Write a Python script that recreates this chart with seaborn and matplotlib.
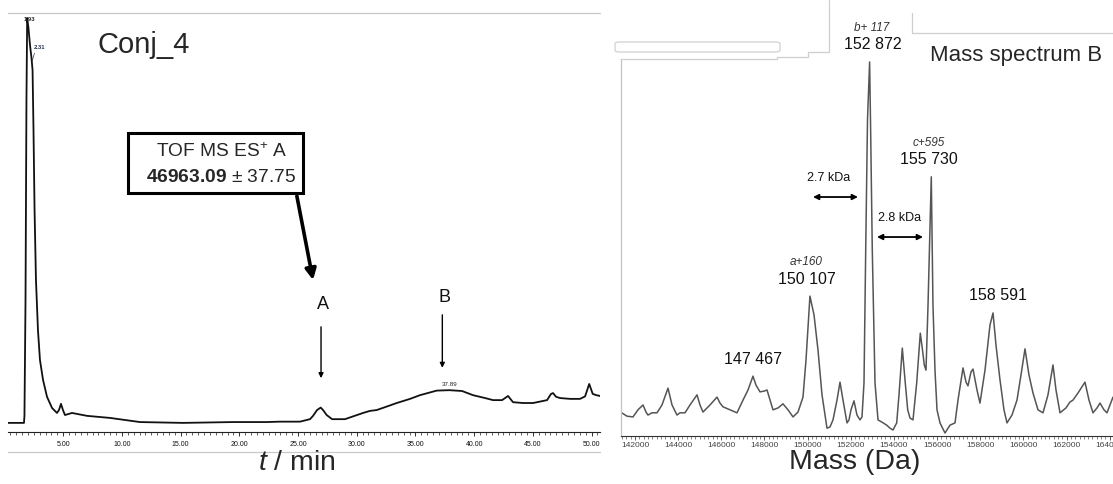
import numpy as np
import pandas as pd
import matplotlib
matplotlib.use("Agg")
import matplotlib.pyplot as plt
import seaborn as sns
from matplotlib.patches import Rectangle, FancyBboxPatch
from matplotlib.lines import Line2D
from matplotlib.ticker import MultipleLocator, FormatStrFormatter

# ---------------- data: chromatogram (left) ----------------
lc_time = [0.30, 1.32, 1.66, 1.70, 1.79, 1.87, 1.93, 2.04, 2.17, 2.30, 2.39, 2.47,
           2.56, 2.68, 2.85, 3.02, 3.28, 3.62, 4.05, 4.47, 4.64, 4.81, 4.98, 5.15,
           5.75, 7.03, 8.99, 11.54, 15.20, 19.46, 22.36, 23.47, 25.17, 26.02, 26.28,
           26.62, 26.93, 27.13, 27.44, 27.90, 29.00, 30.54, 31.13, 31.70, 32.41,
           33.41, 34.54, 35.39, 36.82, 37.89, 38.97, 39.90, 40.93, 41.61, 42.38,
           42.89, 43.31, 44.17, 45.02, 45.87, 46.21, 46.55, 46.72, 46.98, 47.32,
           48.17, 49.02, 49.45, 49.80, 50.10, 50.40, 50.72]
lc_signal = [2.2, 2.2, 2.2, 4.0, 31.9, 80.2, 100.0, 97.6, 93.5, 90.3, 87.4, 72.9,
             53.6, 36.7, 24.6, 17.4, 12.6, 8.5, 5.8, 4.6, 5.3, 6.8, 5.3, 4.1,
             4.6, 3.9, 3.4, 2.4, 2.2, 2.4, 2.4, 2.5, 2.5, 3.1, 3.9,
             5.3, 5.9, 5.3, 4.1, 3.1, 3.1, 4.6, 5.1, 5.3, 6.0,
             7.0, 8.0, 8.9, 10.0, 10.1, 9.9, 8.9, 8.2, 7.7, 7.7,
             8.7, 7.2, 7.0, 7.0, 7.5, 7.7, 9.2, 9.4, 8.5, 8.2,
             8.0, 8.0, 8.6, 11.6, 9.2, 8.9, 8.7]
lc_peak_times = [1.93, 2.31, 37.89]
lc_peak_labels = ["1.93", "2.31", "37.89"]
fraction_names = ["A", "B"]
fraction_times = [26.96, 37.29]
lc_ticks = [5, 10, 15, 20, 25, 30, 35, 40, 45, 50]
tof_title = "TOF MS ES$^{+}$ A"
tof_mass = "46963.09"
tof_err = "37.75"

# ---------------- data: deconvoluted mass spectrum (right) ----------------
ms_mass = [141384, 141629, 141907, 142139, 142371, 142510, 142602, 142788, 143019,
           143251, 143529, 143715, 143946, 144085, 144317, 144549, 144873, 145012,
           145151, 145476, 145800, 145939, 146078, 146402, 146727, 147005, 147236,
           147467, 147607, 147793, 147978, 148117, 148256, 148395, 148627, 148858,
           149090, 149322, 149553, 149785, 149924, 150107, 150295, 150480, 150666,
           150897, 151036, 151175, 151361, 151500, 151639, 151824, 151917, 152009,
           152148, 152287, 152427, 152519, 152612, 152691, 152774, 152872, 152913,
           152996, 153122, 153261, 153446, 153664, 153817, 153956, 154127, 154234,
           154387, 154512, 154637, 154744, 154883, 155054, 155221, 155323, 155406,
           155485, 155578, 155730, 155809, 155902, 155995, 156134, 156365, 156597,
           156829, 156968, 157200, 157339, 157431, 157570, 157663, 157848, 157987,
           158219, 158451, 158591, 158729, 158914, 159099, 159238, 159470, 159702,
           159887, 160073, 160258, 160443, 160675, 160907, 161138, 161370, 161509,
           161695, 161972, 162158, 162297, 162529, 162853, 163038, 163224, 163409,
           163548, 163733, 163872, 164011, 164151]
ms_intensity = [6.2, 5.3, 5.1, 7.0, 8.3, 6.4, 5.6, 6.2, 6.2,
                8.3, 12.8, 8.3, 5.6, 6.2, 6.2, 8.3, 11.0, 8.3,
                6.4, 8.3, 10.4, 8.8, 7.8, 7.0, 6.2, 9.6, 12.3,
                16.0, 13.6, 11.8, 12.0, 12.3, 9.6, 7.0, 7.5, 8.6,
                7.0, 5.1, 6.4, 10.4, 20.3, 37.4, 32.4, 23.0, 11.0,
                2.1, 2.4, 4.3, 9.6, 14.4, 9.6, 3.5, 4.3, 7.0,
                9.4, 5.6, 4.3, 5.1, 14.2, 49.7, 84.5, 100.0, 84.5,
                49.7, 14.2, 4.3, 3.7, 2.9, 2.1, 1.6, 3.5, 11.0,
                23.5, 15.0, 7.0, 4.8, 4.3, 14.2, 27.5, 23.0, 19.0,
                17.6, 34.8, 69.3, 34.8, 17.6, 7.0, 3.5, 0.8, 2.9,
                3.5, 9.6, 18.2, 14.4, 13.4, 17.1, 17.9, 12.3, 8.8,
                17.6, 29.7, 32.9, 24.3, 15.0, 7.0, 3.5, 5.6, 9.6,
                16.3, 23.3, 16.3, 11.5, 7.0, 6.2, 11.0, 19.0, 12.3,
                6.2, 7.5, 9.1, 9.6, 11.5, 14.4, 9.6, 6.2, 7.5,
                8.8, 7.0, 6.2, 8.3, 10.4]
ms_peak_mass = [147467, 150107, 152872, 155730, 158591]
ms_peak_label = ["147 467", "150 107", "152 872", "155 730", "158 591"]
ms_peak_adduct = ["", "a+160", "b+ 117", "c+595", ""]
ms_gap_labels = ["2.7 kDa", "2.8 kDa"]
ms_gap_from = [150249, 153214]
ms_gap_to = [152333, 155346]
ms_gap_level = [63.9, 53.2]
ms_ticks = list(range(142000, 164001, 2000))

# ---------------- style ----------------
sns.set_style("white")
plt.rcParams["font.family"] = ["Liberation Sans", "DejaVu Sans"]
plt.rcParams["mathtext.fontset"] = "custom"
plt.rcParams["mathtext.rm"] = "Liberation Sans"
plt.rcParams["mathtext.it"] = "Liberation Sans:italic"
plt.rcParams["mathtext.bf"] = "Liberation Sans:bold"

W, H = 1113, 484
fig = plt.figure(figsize=(W / 100, H / 100), dpi=100)
fig.patch.set_facecolor("white")


def fx(x):
    return x / W


def fy(y):
    return 1 - y / H


def frect(x0, y0, x1, y1):
    return [fx(x0), fy(y1), fx(x1) - fx(x0), fy(y0) - fy(y1)]


# ---------------- left panel: chromatogram ----------------
axL = fig.add_axes(frect(8, 13, 600, 432))
axL.patch.set_alpha(0)
lc_df = pd.DataFrame({"t": lc_time, "s": lc_signal})
sns.lineplot(data=lc_df, x="t", y="s", ax=axL, color="#111111", lw=1.3,
             sort=False, estimator=None)
axL.set_xlim(0.298, 50.72)
axL.set_ylim(0, 101.2)
for s in ["top", "right", "left"]:
    axL.spines[s].set_visible(False)
axL.spines["bottom"].set_color("#222222")
axL.spines["bottom"].set_linewidth(0.8)
axL.set_xticks(lc_ticks)
axL.xaxis.set_major_formatter(FormatStrFormatter("%.2f"))
axL.xaxis.set_minor_locator(MultipleLocator(0.5))
axL.tick_params(axis="x", which="major", direction="out", length=3, width=0.6,
                labelsize=5, pad=3.5, colors="#111111", bottom=True)
axL.tick_params(axis="x", which="minor", direction="out", length=1.8, width=0.5,
                colors="#222222", bottom=True)
axL.set_yticks([])
axL.set_xlabel("")
axL.set_ylabel("")

# small peak labels
axL.text(2.09, 99.7, lc_peak_labels[0], fontsize=4.2, ha="center", va="center",
         color="#222222", fontweight="bold")
axL.text(2.94, 92.9, lc_peak_labels[1], fontsize=4.2, ha="center", va="center",
         color="#223355", fontweight="bold")
axL.plot([2.35, 2.55], [89.5, 91.5], color="#333333", lw=0.5)
axL.text(37.95, 11.4, lc_peak_labels[2], fontsize=4.5, ha="center", va="center",
         color="#222222")

# fraction arrows A and B
arrow_top = [25.4, 28.3]
arrow_bot = [13.0, 15.5]
label_y = [30.9, 32.4]
for name, t, yt, yb, ly in zip(fraction_names, fraction_times, arrow_top, arrow_bot, label_y):
    axL.annotate("", xy=(t, yb), xytext=(t, yt),
                 arrowprops=dict(arrowstyle="-|>", lw=1.0, color="black",
                                 mutation_scale=7, shrinkA=0, shrinkB=0))
    axL.text(t + 0.2, ly, name, fontsize=13, ha="center", va="center", color="#111111")

# TOF box
fig.patches.append(Rectangle((fx(128), fy(193)), fx(303) - fx(128), fy(133) - fy(193),
                             transform=fig.transFigure, fill=False, lw=2.2,
                             edgecolor="black"))
fig.text(fx(222), fy(152), tof_title, fontsize=13.8, ha="center", va="center")
fig.text(fx(221), fy(177), r"$\mathbf{" + tof_mass + "}$ ± " + tof_err,
         fontsize=13.8, ha="center", va="center")
axL.annotate("", xy=(26.28, 36.7), xytext=(24.9, 57.0),
             arrowprops=dict(arrowstyle="-|>", lw=2.6, color="black",
                             mutation_scale=16, shrinkA=0, shrinkB=0))

fig.text(fx(97), fy(45), "Conj_4", fontsize=21, ha="left", va="center")
fig.text(fx(297), fy(463), "$t$ / min", fontsize=20.5, ha="center", va="center")

# grey frame lines of the left panel
for (x0, y0, x1, y1) in [(8, 13, 600, 13), (8, 452, 600, 452)]:
    fig.add_artist(Line2D([fx(x0), fx(x1)], [fy(y0), fy(y1)], color="#c8c8c8", lw=0.9))

# ---------------- right panel: mass spectrum ----------------
axR = fig.add_axes(frect(621, 59, 1113, 436))
axR.patch.set_alpha(0)
ms_df = pd.DataFrame({"m": ms_mass, "i": ms_intensity})
sns.lineplot(data=ms_df, x="m", y="i", ax=axR, color="#555555", lw=1.1,
             sort=False, estimator=None)
axR.set_xlim(141351, 164151)
axR.set_ylim(0, 100.8)
axR.spines["top"].set_visible(False)
axR.spines["right"].set_visible(False)
axR.spines["left"].set_color("#c4c4c4")
axR.spines["left"].set_linewidth(0.9)
axR.spines["bottom"].set_color("#333333")
axR.spines["bottom"].set_linewidth(0.8)
axR.set_xticks(ms_ticks)
axR.set_xticklabels([str(v) for v in ms_ticks])
axR.xaxis.set_minor_locator(MultipleLocator(200))
axR.tick_params(axis="x", which="major", direction="out", length=3, width=0.6,
                labelsize=6, pad=1, colors="#444444", bottom=True)
axR.tick_params(axis="x", which="minor", direction="out", length=2, width=0.5,
                colors="#555555", bottom=True)
axR.set_yticks([])
axR.set_xlabel("")
axR.set_ylabel("")

ms_m = np.array(ms_mass)
ms_i = np.array(ms_intensity)
x_offsets = [0, -3, 3, -2, 5]
for m, lab, add, dx in zip(ms_peak_mass, ms_peak_label, ms_peak_adduct, x_offsets):
    top = ms_i[np.abs(ms_m - m) < 120].max()
    axR.annotate(lab, xy=(m, top), xytext=(dx, 17), textcoords="offset pixels",
                 fontsize=11.5, ha="center", va="center", color="#111111")
    if add:
        axR.annotate(add, xy=(m, top), xytext=(dx - 1, 34), textcoords="offset pixels",
                     fontsize=8.5, ha="center", va="center", style="italic",
                     color="#333333")

gap_text_dx = [-7, 0]
for lab, a, b, lev, tdx in zip(ms_gap_labels, ms_gap_from, ms_gap_to, ms_gap_level, gap_text_dx):
    axR.annotate("", xy=(a, lev), xytext=(b, lev),
                 arrowprops=dict(arrowstyle="<|-|>", lw=1.3, color="black",
                                 mutation_scale=8, shrinkA=0, shrinkB=0))
    axR.annotate(lab, xy=((a + b) / 2, lev), xytext=(tdx, 19), textcoords="offset pixels",
                 fontsize=9, ha="center", va="center", color="#111111")

fig.text(fx(930), fy(55), "Mass spectrum B", fontsize=16, ha="left", va="center")
fig.text(fx(855), fy(462), "Mass (Da)", fontsize=20.5, ha="center", va="center")

# grey frame remnants around the right panel
fig.patches.append(FancyBboxPatch((fx(615), fy(52)), fx(780) - fx(615), fy(42) - fy(52),
                                  boxstyle="round,pad=0,rounding_size=0.004",
                                  transform=fig.transFigure, fill=False,
                                  edgecolor="#d0d0d0", lw=0.9))
for (x0, y0, x1, y1) in [(622, 59, 777, 59), (829, 0, 829, 52), (808, 52, 829, 52),
                         (808, 52, 808, 57), (777, 57, 808, 57), (777, 57, 777, 59),
                         (912, 13, 912, 33), (912, 33, 1113, 33)]:
    fig.add_artist(Line2D([fx(x0), fx(x1)], [fy(y0), fy(y1)], color="#cfcfcf", lw=0.9))

fig.savefig("out.png", dpi=100, facecolor="white")
